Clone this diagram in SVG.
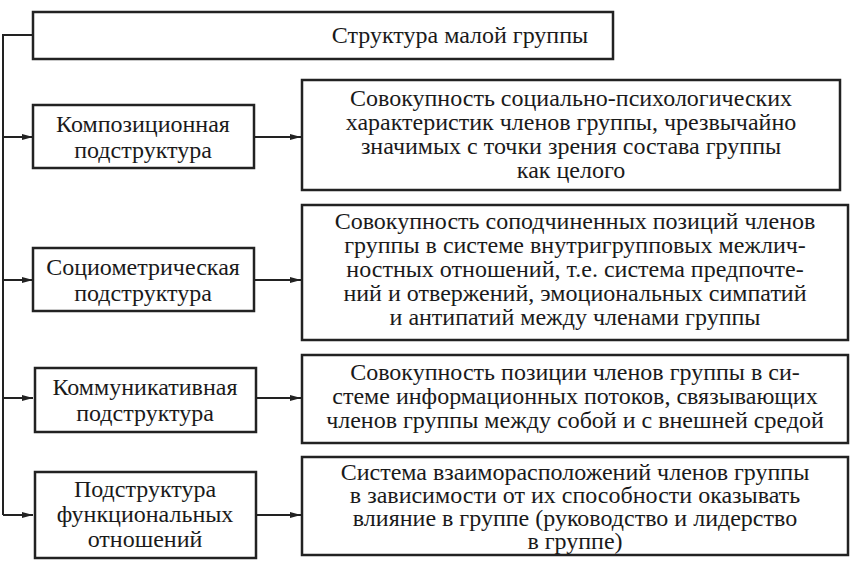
<svg xmlns="http://www.w3.org/2000/svg" width="853" height="567" viewBox="0 0 853 567">
<defs>
<marker id="a" markerWidth="12" markerHeight="8" refX="11" refY="4" orient="auto" markerUnits="userSpaceOnUse"><path d="M0,1 L11,4 L0,7 Z" fill="#222"/></marker>
<style>
rect{fill:#fff;stroke:#222;stroke-width:2.5}
text{font-family:'Liberation Serif','DejaVu Serif',serif;font-size:24px;fill:#1a1a1a;text-anchor:middle}
.c line,.c polyline{stroke:#222;stroke-width:2;fill:none}
</style>
</defs>
<rect x="0" y="0" width="853" height="567" style="fill:#fff;stroke:none"/>
<g class="c">
<polyline points="33,35 3,35 3,515"/>
<line x1="3" y1="137" x2="33" y2="137" marker-end="url(#a)"/>
<line x1="3" y1="280" x2="33" y2="280" marker-end="url(#a)"/>
<line x1="3" y1="398" x2="33" y2="398" marker-end="url(#a)"/>
<line x1="3" y1="515" x2="33" y2="515" marker-end="url(#a)"/>
<line x1="254" y1="137" x2="301" y2="137" marker-end="url(#a)"/>
<line x1="254" y1="280" x2="301" y2="280" marker-end="url(#a)"/>
<line x1="256" y1="398" x2="301" y2="398" marker-end="url(#a)"/>
<line x1="256" y1="515" x2="301" y2="515" marker-end="url(#a)"/>
</g>
<g id="top"><rect x="33" y="12" width="580" height="47"/><text x="460" y="43">Структура малой группы</text></g>
<g id="l1"><rect x="33" y="105" width="221" height="63"/><text x="143" y="132">Композиционная</text><text x="143" y="158">подструктура</text></g>
<g id="r1"><rect x="302" y="80" width="538" height="110"/><text x="571" y="106">Совокупность социально-психологических</text><text x="571" y="130">характеристик членов группы, чрезвычайно</text><text x="571" y="154">значимых с точки зрения состава группы</text><text x="571" y="178">как целого</text></g>
<g id="l2"><rect x="33" y="248" width="221" height="63"/><text x="143" y="275">Социометрическая</text><text x="143" y="301">подструктура</text></g>
<g id="r2"><rect x="302" y="205" width="546" height="135"/><text x="575" y="229">Совокупность соподчиненных позиций членов</text><text x="575" y="253">группы в системе внутригрупповых межлич-</text><text x="575" y="277">ностных отношений, т.е. система предпочте-</text><text x="575" y="301">ний и отвержений, эмоциональных симпатий</text><text x="575" y="325">и антипатий между членами группы</text></g>
<g id="l3"><rect x="35" y="368" width="221" height="64"/><text x="145" y="395">Коммуникативная</text><text x="145" y="421">подструктура</text></g>
<g id="r3"><rect x="302" y="355" width="546" height="88"/><text x="575" y="380">Совокупность позиции членов группы в си-</text><text x="575" y="404">стеме информационных потоков, связывающих</text><text x="575" y="428">членов группы между собой и с внешней средой</text></g>
<g id="l4"><rect x="35" y="472" width="221" height="86"/><text x="145" y="497">Подструктура</text><text x="145" y="522">функциональных</text><text x="145" y="547">отношений</text></g>
<g id="r4"><rect x="302" y="457" width="546" height="98"/><text x="575" y="480">Система взаиморасположений членов группы</text><text x="575" y="503">в зависимости от их способности оказывать</text><text x="575" y="526">влияние в группе (руководство и лидерство</text><text x="575" y="549">в группе)</text></g>
</svg>
